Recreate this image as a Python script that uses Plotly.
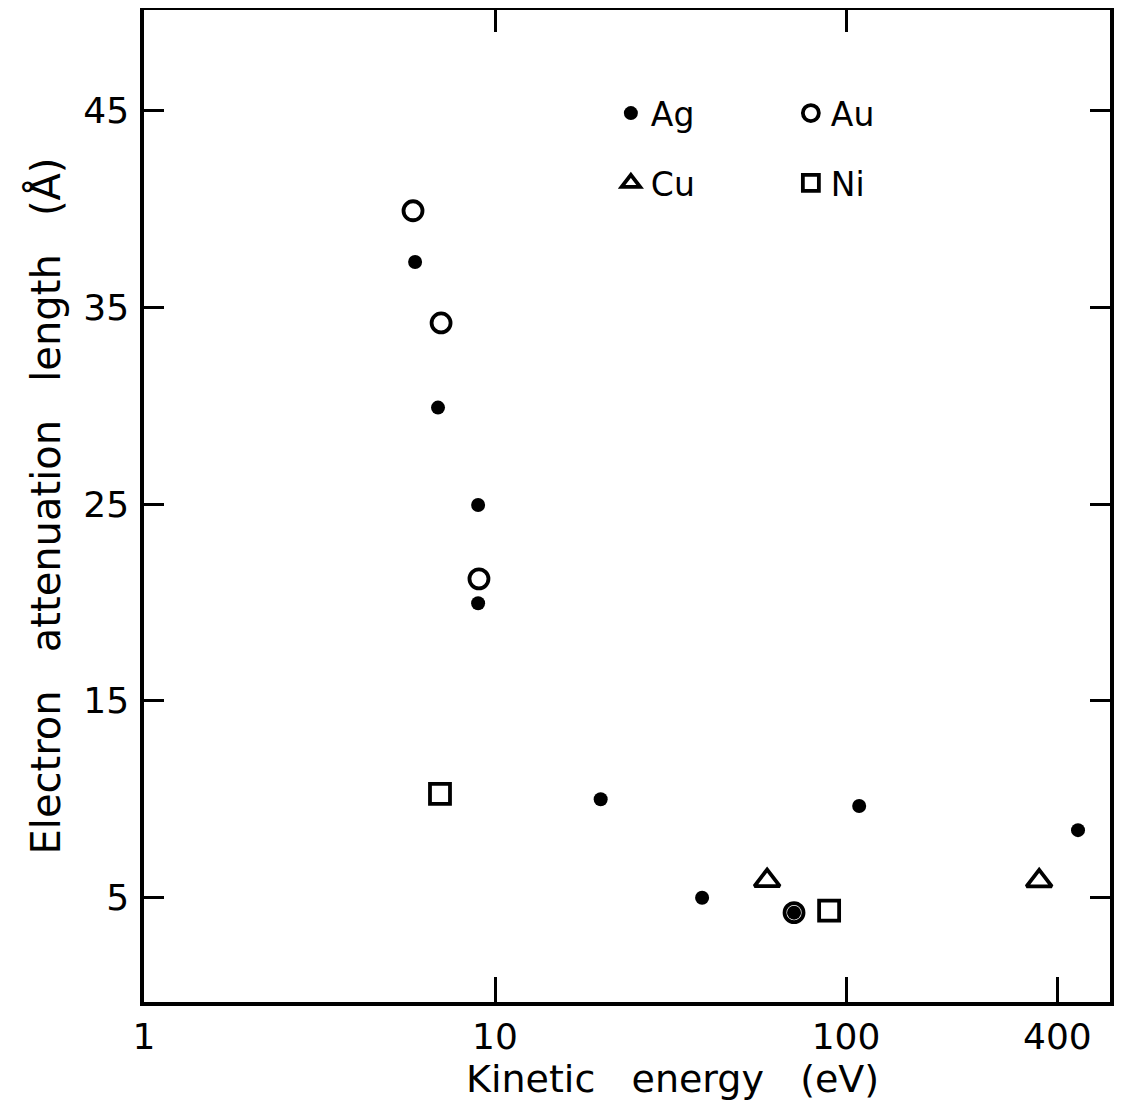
import plotly.graph_objects as go

# ---- data ----
ag_energy = [5.92, 6.88, 8.95, 8.95, 20.0, 38.9, 71.1, 109, 458]
ag_length = [37.3, 29.9, 24.95, 19.96, 10.0, 5.0, 4.24, 9.66, 8.43]

au_energy = [5.84, 7.02, 9.0, 71.1]
au_length = [39.9, 34.2, 21.2, 4.24]

cu_energy = [59.6, 355]
cu_length = [5.87, 5.85]

ni_energy = [6.97, 89.5]
ni_length = [10.27, 4.34]

x_tickvals = [1, 10, 100, 400]
x_ticktext = ["1", "10", "100", "400"]
y_tickvals = [5, 15, 25, 35, 45]
y_ticktext = ["5", "15", "25", "35", "45"]

FONT = "DejaVu Sans"
NB = "\u00a0"

fig = go.Figure()

fig.add_trace(go.Scatter(
    x=ag_energy, y=ag_length, mode="markers", name="Ag",
    marker=dict(symbol="circle", size=14, color="black", line=dict(width=0)),
    legend="legend", legendrank=1))
fig.add_trace(go.Scatter(
    x=au_energy, y=au_length, mode="markers", name="Au",
    marker=dict(symbol="circle-open", size=19, color="black", line=dict(width=3.8, color="black")),
    legend="legend", legendrank=2))
fig.add_trace(go.Scatter(
    x=cu_energy, y=cu_length, mode="markers", name="Cu",
    marker=dict(symbol="triangle-up-open", size=22, color="black", line=dict(width=3.8, color="black")),
    legend="legend2", legendrank=1))
fig.add_trace(go.Scatter(
    x=ni_energy, y=ni_length, mode="markers", name="Ni",
    marker=dict(symbol="square-open", size=20, color="black", line=dict(width=3.8, color="black")),
    legend="legend2", legendrank=2))
# empty trace so the top tick axis is rendered
fig.add_trace(go.Scatter(x=[], y=[], xaxis="x2", showlegend=False, hoverinfo="skip"))

axis_font = dict(family=FONT, size=36, color="black")
legend_common = dict(
    orientation="h", xanchor="left", yanchor="middle",
    font=dict(family=FONT, size=33, color="black"),
    bgcolor="rgba(0,0,0,0)", borderwidth=0,
    entrywidth=135, entrywidthmode="pixels",
    itemsizing="trace", traceorder="normal",
)

fig.update_layout(
    width=1124, height=1092,
    margin=dict(l=136, r=22, t=2, b=98, autoexpand=False),
    paper_bgcolor="white", plot_bgcolor="white",
    font=dict(family=FONT, color="black"),
    showlegend=True,
    legend=dict(x=0.4833, y=0.896, **legend_common),
    legend2=dict(x=0.4833, y=0.8256, **legend_common),
    xaxis=dict(
        type="log", range=[0, 2.752], automargin=False,
        tickvals=x_tickvals, ticktext=x_ticktext,
        ticks="inside", ticklen=25, tickwidth=3, tickcolor="black",
        showline=True, linewidth=3.5, linecolor="black", mirror=True,
        showgrid=False, zeroline=False,
        tickfont=axis_font, ticklabelstandoff=0,
    ),
    xaxis2=dict(
        type="log", range=[0, 2.752], overlaying="x", side="top", automargin=False,
        tickvals=[10, 100], ticks="inside", ticklen=22, tickwidth=3, tickcolor="black",
        showticklabels=False, showline=False, showgrid=False, zeroline=False,
    ),
    yaxis=dict(
        range=[-0.3, 50.1], automargin=False,
        tickvals=y_tickvals, ticktext=y_ticktext,
        ticks="inside", ticklen=20, tickwidth=3, tickcolor="black",
        showline=True, linewidth=3.5, linecolor="black", mirror="ticks",
        showgrid=False, zeroline=False,
        tickfont=axis_font, ticklabelstandoff=4,
        title=dict(text=f"Electron{NB*3}attenuation{NB*3}length{NB*3}(Å)",
                   font=dict(family=FONT, size=40, color="black"), standoff=11),
    ),
    annotations=[dict(
        text=f"Kinetic{NB*3}energy{NB*3}(eV)",
        xref="paper", yref="paper", x=0.5476, y=-0.0776,
        xanchor="center", yanchor="middle", showarrow=False,
        font=dict(family=FONT, size=38, color="black"),
    )],
)

fig.write_html("out.html")
